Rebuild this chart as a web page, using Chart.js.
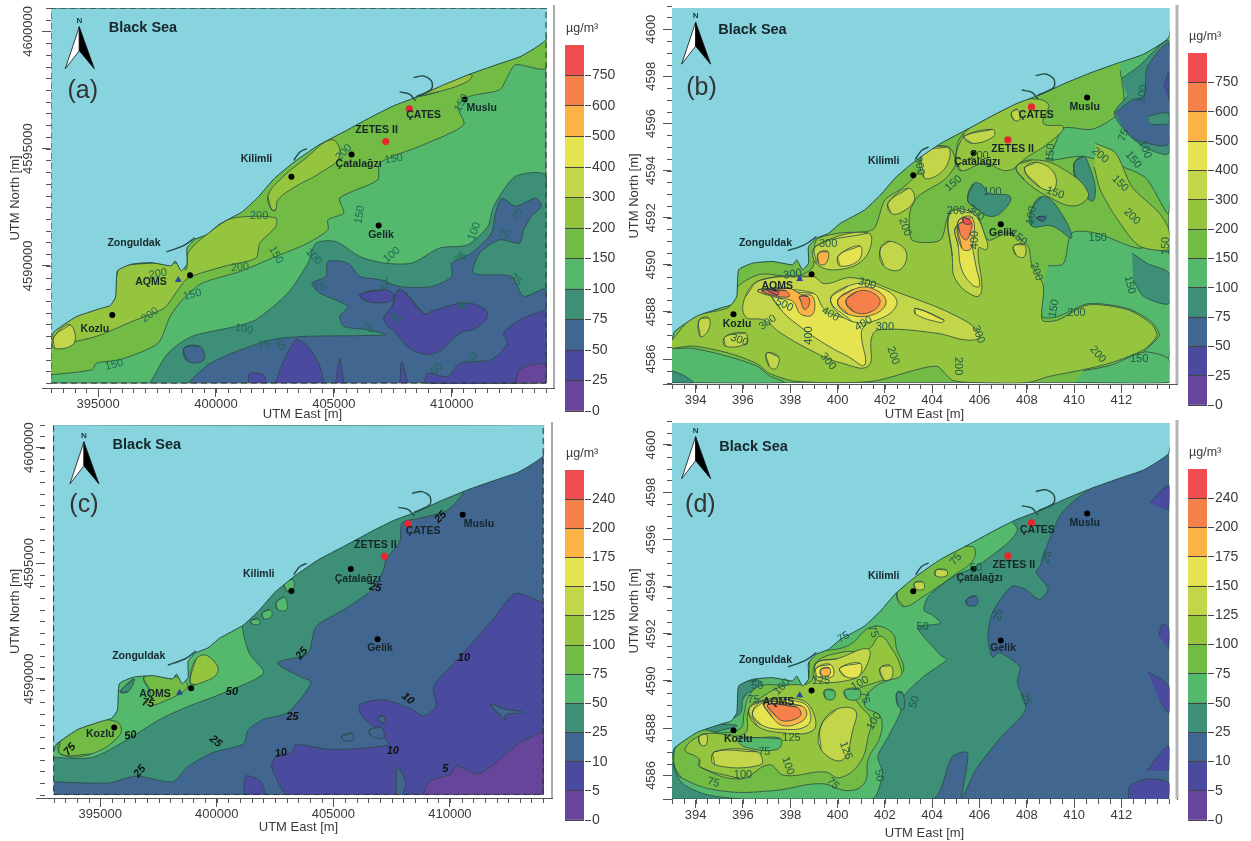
<!DOCTYPE html>
<html>
<head>
<meta charset="utf-8">
<title>UTM contour maps</title>
<script src="https://cdn.jsdelivr.net/npm/chart.js@4"></script>
<style>
html,body{margin:0;padding:0;background:#fff;}
#page{position:relative;width:1251px;height:841px;overflow:hidden;}
canvas{position:absolute;}
</style>
</head>
<body>
<div id="page"></div>
<script>
// colour classes, lowest to highest
const bandColors = ['#66459b','#4a4a9f','#41668f','#3d8f78','#54b96c','#72bb45','#95c43e','#c3d548','#e5e350','#fbb345','#f58049','#ef4d4f'];
const bandHeights = [1,1,1,1,1,1,1,1,1,1,1,1];
const tickLabelsAB = ['0','25','50','75','100','150','200','300','400','500','600','750'];
const tickLabelsCD = ['0','5','10','25','50','75','100','125','150','175','200','240'];

// shared geography, km east / km north
const coast = [[393,4586.85],[393.12,4587.18],[394.05,4587.82],[395.06,4588.17],[395.5,4588.3],[395.74,4588.66],[395.82,4589.79],[396.41,4590.07],[397.25,4590.14],[398.1,4590],[398.27,4590.21],[398.52,4589.79],[398.77,4590.07],[398.77,4590.77],[399.11,4591.13],[399.62,4591.34],[400.12,4591.76],[401.13,4592.32],[401.81,4592.96],[402.48,4593.73],[403.33,4594.44],[404.34,4595.14],[405.52,4595.77],[406.7,4596.41],[407.54,4596.83],[408.64,4597.25],[409.56,4597.68],[410.75,4598.17],[411.93,4598.59],[412.94,4598.94],[414,4599.65]];
const harbours = [
  [[408.47,4597.2],[409.14,4597.54],[409.14,4597.89],[408.8,4598.1],[408.38,4598.03]],
  [[407.79,4597.42],[408.22,4597.32],[408.47,4597.04]],
  [[403.3,4594.5],[403.55,4594.85],[403.85,4595]],
  [[397.9,4590.6],[398.6,4590.85],[399.11,4591.2]]
];
const landRect = [[393,4585],[414,4585],[414,4601],[393,4601]];
const sitesBlack = [[395.6,4587.9],[398.9,4589.6],[403.2,4593.8],[405.75,4594.75],[406.9,4591.72],[410.55,4597.1]];
const sitesRed = [[408.2,4596.7],[407.2,4595.3]];
const siteAqms = [[398.4,4589.4]];

// panel a
const a150 = [[393,4585.35],[394.75,4585.57],[394.92,4585.85],[395.93,4586],[397.54,4586.7],[398.05,4587.84],[398.64,4588.62],[399.41,4589.26],[401.02,4589.76],[402.54,4590.4],[403.9,4590.97],[404.75,4591.54],[404.75,4591.97],[405.42,4592.25],[405.25,4592.89],[406.86,4593.67],[406.95,4594.39],[408.81,4595.17],[410.51,4596.02],[410.25,4596.8],[410.76,4597.23],[412.03,4597.51],[412.37,4598.08],[412.71,4598.58],[414,4598.44],[414,4601],[393,4601]];
const a200w = [[393,4586.56],[394.92,4586.99],[396.44,4587.63],[397.8,4588.2],[398.39,4588.98],[398.81,4589.48],[400.34,4589.98],[401.69,4590.33],[401.86,4590.97],[402.54,4591.68],[402.54,4592.04],[401.44,4592.11],[400.51,4591.97],[399.32,4591.11],[398.81,4590.55],[398.73,4589.83],[398.3,4590.12],[395.93,4589.98],[395.76,4589.55],[393,4587.13]];
const a200m = [[402.37,4592.39],[402.2,4592.96],[402.71,4593.67],[403.73,4594.53],[404.92,4595.38],[405.25,4594.67],[404.41,4593.96],[403.39,4593.39],[402.63,4592.82],[402.54,4592.39]];
const a200e = [[408.47,4597.23],[409.49,4597.44],[410.68,4597.87],[410.85,4598.15],[410,4598.01],[408.81,4597.51]];
const a300 = [[393.14,4586.99],[393.81,4587.49],[393.98,4586.7],[393.14,4586.49]];
const a75 = [[397.2,4585],[397.97,4586.28],[398.98,4586.99],[400.85,4587.42],[401.69,4587.7],[403.05,4588.84],[403.9,4590.12],[404.24,4590.97],[405.08,4591.04],[406.1,4590.4],[407.12,4590.12],[408.31,4590.12],[409.49,4590.76],[410.68,4590.9],[411.53,4591.68],[411.78,4592.54],[412.71,4593.82],[414,4593.82],[414,4585]];
const a50 = [[398.81,4585],[399.66,4585.78],[400.68,4586.28],[402.37,4586.85],[403.73,4586.99],[407.2,4587.06],[406.44,4587.27],[405.42,4587.42],[405.25,4587.84],[405.59,4588.27],[404.41,4588.84],[404.07,4589.26],[404.66,4589.55],[404.75,4590.19],[405.59,4590.12],[406.1,4589.55],[406.95,4589.41],[407.8,4589.12],[409.15,4589.12],[410,4589.55],[410,4590.12],[410.85,4590.55],[411.69,4591.4],[411.86,4592.25],[412.12,4592.89],[412.71,4592.54],[413.56,4592.89],[413.81,4592.54],[413.39,4592.11],[413.05,4591.54],[412.88,4590.97],[412.03,4591.11],[411.19,4590.55],[410.93,4589.69],[412.54,4589.55],[413.05,4588.7],[414,4588.98],[414,4585]];
const a50b = [[398.64,4586.49],[399.32,4586.56],[399.49,4586],[398.81,4585.92]];
const a25s1 = [[401.36,4585],[401.44,4585.42],[402.03,4585.35],[402.12,4585]];
const a25s2 = [[402.54,4585],[402.71,4585.57],[403.39,4586.85],[403.9,4586.56],[404.41,4585.71],[404.58,4585]];
const a25s3 = [[405.08,4585],[405.25,4586.06],[405.42,4585]];
const a25s4 = [[407.8,4585],[407.88,4585.92],[408.14,4585]];
const a25m = [[407.8,4588.98],[408.81,4587.98],[409.32,4588.13],[410.68,4588.41],[411.53,4587.98],[411.02,4587.34],[410.34,4587.13],[409.32,4586.28],[408.31,4586.42],[407.63,4587.13],[407.12,4587.7],[407.46,4588.27]];
const a25e = [[414,4588.13],[412.88,4587.7],[412.2,4587.13],[412.37,4586.7],[411.69,4586],[410.34,4585.85],[409.83,4585.28],[408.98,4585.42],[408.9,4585],[414,4585]];
const a25n = [[406.1,4588.77],[407.12,4588.98],[407.54,4588.77],[407.37,4588.48],[406.44,4588.48]];
const a0 = [[412.71,4585],[412.88,4585.57],[413.39,4585.78],[414,4585.78],[414,4585]];
const layersA = [[4,landRect],[5,a150],[3,a75],[2,a50],[2,a50b],[1,a25s1],[1,a25s2],[1,a25s3],[1,a25s4],[1,a25m],[1,a25e],[1,a25n],[0,a0],[6,a200w],[6,a200m],[6,a200e],[7,a300]];
const contourLabelsA = [['200',397.2,4587.9,-35],['150',399,4588.77,-15],['200',397.54,4589.66,-10],['200',401.02,4589.93,-5],['150',402.54,4590.47,60],['200',401.83,4592.11,0],['200',405.42,4594.84,-45],['150',407.54,4594.56,-10],['150',406.1,4592.18,-80],['150',395.68,4585.78,-15],['100',401.19,4587.3,10],['100',404.15,4590.4,45],['100',407.46,4590.47,-40],['100',410.96,4591.47,-70],['75',402.03,4586.63,-10],['50',402.71,4586.63,60],['75',404.41,4589.08,-10],['75',407.12,4589.26,70],['50',407.6,4587.77,45],['75',406.44,4587.34,20],['50',410.42,4588.3,10],['75',410.37,4590.33,-40],['75',412.71,4589.4,45],['75',412.2,4591.33,15],['75',412.8,4592.18,-60],['50',410.93,4586.06,-80],['50',409.36,4585.6,-50],['150',410.42,4596.95,-60]];
const siteLabelsA = [['Kozlu',394.86,4587.3],['AQMS',397.24,4589.31],['Zonguldak',396.52,4590.99],['Kilimli',401.72,4594.55],['Çatalağzı',406.05,4594.34],['ZETES II',406.81,4595.78],['ÇATES',408.81,4596.42],['Muslu',411.27,4596.73],['Gelik',407,4591.3]];

// panel b
const b100e1 = [[411.95,4598.25],[412.1,4597],[411.75,4596.3],[410.75,4595.75],[409.55,4595.8],[409.15,4595],[408.9,4594.45],[410.4,4594.6],[412.95,4593.75],[414,4592.2],[414,4601],[412,4601]];
const b100e2 = [[408.9,4589.95],[409.55,4590.05],[409.9,4591.35],[410.9,4591.35],[412.75,4590.7],[414,4591.05],[414,4586],[412.95,4586.25],[413.6,4587],[413.25,4587.6],[412.25,4588.15],[410.6,4588.35],[409.3,4587.8],[408.65,4587.8],[408.7,4589.1]];
const b100s1 = [[393,4586.45],[393.9,4586.45],[395.4,4586.1],[396.6,4585.7],[397.1,4585.3],[397.75,4585],[393,4585]];
const b100s2 = [[410.4,4585.5],[411.6,4585.75],[412.95,4586.3],[414,4586],[414,4585],[410.05,4585]];
const b100s3 = [[404.15,4590.2],[404.6,4590.05],[404.5,4589.35],[404.15,4589.5]];
const b75a = [[405.5,4592.75],[405.75,4593.45],[406.1,4593.4],[406.35,4593.05],[407.3,4592.9],[407.05,4592.35],[406.5,4592.05],[405.85,4592.4]];
const b75b = [[408.2,4592.35],[408.65,4592.9],[409.25,4592.5],[409.9,4591.15],[409.05,4591.65],[408.2,4591.65]];
const b75c = [[410,4594.3],[410.4,4594.6],[410.65,4594.15],[410.9,4593.2],[410.75,4592.7],[410.15,4593.45]];
const b75d = [[412.45,4590.5],[413.1,4590.05],[414,4589.65],[414,4588.35],[412.95,4588.65],[412.5,4589.35]];
const b75e = [[412,4597.9],[412.7,4598.4],[414,4599.5],[414,4594.75],[412.95,4595],[412.1,4595.75],[411.7,4596.45],[412.25,4597.15]];
const b75h = [[413.1,4596.3],[413.95,4596.45],[414,4596],[413.25,4595.95]];
const b75s = [[393,4585.5],[393.5,4585.3],[393.9,4585],[393,4585]];
const b50 = [[411.75,4596.45],[412.45,4597],[412.95,4597.15],[413.1,4598.4],[414,4599.4],[414,4595.15],[412.6,4595.3],[412.1,4595.75]];
const b50b = [[408.4,4592],[408.8,4592.05],[408.7,4591.85]];
const b25 = [[413.8,4597.55],[414,4598.2],[414,4596.95]];
const b200m = [[393,4586.8],[393.9,4587.8],[395.4,4588.2],[395.8,4589.1],[396.75,4589.6],[398.25,4589.5],[398.95,4589.9],[399.1,4591.05],[400.1,4591.35],[401.5,4591.5],[402,4592.75],[402.8,4593.3],[403.6,4594.15],[403.65,4594.95],[404.7,4595],[405,4594.3],[404.5,4593.6],[403.4,4592.9],[403.05,4592.2],[403.15,4591.05],[404.35,4591.05],[404.75,4592.2],[405.85,4592.2],[406.35,4591.05],[407.2,4591.35],[408.05,4590.8],[408.2,4590.05],[408.7,4589.1],[408.65,4587.65],[409.3,4587.65],[410.6,4588.3],[412.25,4588.1],[413.25,4587.5],[413.5,4587],[412.95,4586.4],[411.6,4585.85],[410.4,4585.55],[408.9,4585.25],[408.05,4585],[405.85,4585],[404.85,4585.1],[404.15,4585.7],[401.45,4585.05],[398.25,4585.05],[397.1,4585.4],[396.6,4585.8],[395.4,4586.25],[393.9,4586.55],[393,4586.45]];
const b200n = [[405,4594.6],[405.35,4595.6],[407.05,4596.6],[407.7,4597],[408.9,4596.85],[408.7,4596],[409.55,4595.85],[408.9,4595.15],[408.05,4594.6],[407.2,4594],[406.2,4594.3],[405.2,4594]];
const b200l = [[407.55,4594.15],[408.2,4594.45],[409.4,4594.15],[410.6,4593.05],[410.05,4592.5],[408.9,4592.9],[407.9,4593.6]];
const b200e = [[410.9,4595.15],[411.75,4594.75],[412.45,4593.3],[413.6,4592.2],[414,4591.5],[414,4590.65],[412.75,4590.8],[411.75,4592.05],[411.1,4593.2],[410.85,4594.15]];
const b300a = [[396.75,4589.35],[398.95,4589.5],[399.45,4589.2],[400.65,4589.45],[402.5,4588.85],[405.35,4587.65],[406,4586.95],[405.5,4586.8],[404.15,4587.1],[401.8,4587.25],[401.45,4586.95],[401.3,4585.7],[400.1,4585.85],[399.1,4586.25],[397.6,4587.1],[396.9,4587.65],[396.1,4587.8],[396.1,4588.65]];
const b300b = [[404.75,4592.2],[405.7,4592.2],[406.3,4591.05],[406.3,4590.65],[405.95,4590.7],[406.1,4588.95],[405.85,4588.65],[405,4589.35],[404.85,4590.35]];
const b300c = [[399.1,4590.8],[401.3,4591.35],[401.2,4590.35],[400.1,4589.8],[399.1,4590.05]];
const b300p = [
  [[405.35,4595.45],[406.55,4595.75],[406.6,4595.45],[405.7,4595.15]],
  [[403.6,4594.75],[404.6,4595],[404.75,4594.6],[404.35,4593.9],[403.65,4593.7]],
  [[402.15,4592.65],[403,4593.25],[403.25,4592.75],[402.65,4592.2],[402.25,4592.2]],
  [[407.9,4594.05],[408.4,4594.35],[409.15,4593.9],[409.15,4593.2],[408.55,4593.3]],
  [[407.35,4596.45],[407.6,4596.6],[407.7,4596.15],[407.45,4596.15]],
  [[401.8,4590.65],[402.2,4591],[402.9,4590.55],[402.65,4589.8],[401.95,4589.95]],
  [[407.45,4590.8],[407.9,4590.85],[407.9,4590.35],[407.55,4590.4]],
  [[394.15,4587.65],[394.55,4587.75],[394.55,4587.25],[394.2,4586.95]],
  [[395.25,4586.95],[396.1,4587.1],[396.1,4586.65],[395.25,4586.55]],
  [[397,4586.25],[397.5,4586.1],[397.4,4585.6],[397.1,4585.7]]
];
const b400a = [[397.25,4588.8],[398.95,4588.8],[399.45,4588.1],[400.05,4587.8],[401.15,4587.6],[401,4587.1],[401.15,4585.75],[400.45,4586.1],[399.45,4586.65],[398.45,4587.35],[397.6,4588.1]];
const b400b = [[399.7,4588.5],[400.45,4589.1],[401.45,4589.15],[402.5,4588.5],[402,4587.8],[400.6,4587.6]];
const b400c = [[404.99,4591.6],[405.6,4591.75],[405.7,4590.8],[405.85,4589.95],[406,4589.1],[405.7,4589.15],[405.25,4589.8],[405.1,4590.8]];
const b400d = [[400.05,4590.4],[400.95,4590.8],[400.9,4590.2],[400.1,4589.95]];
const b400e = [[403.3,4588.15],[404.5,4587.65],[404.35,4587.55],[403.3,4587.9]];
const b500a = [[396.65,4588.95],[397.95,4589],[398.45,4588.75],[398.95,4588.65],[398.95,4587.9],[398.45,4587.9],[398.1,4588.45],[397.45,4588.6],[396.65,4588.85]];
const b500b = [[400,4588.45],[400.65,4588.95],[401.45,4589],[402.05,4588.45],[401.55,4587.9],[400.45,4587.9]];
const b500c = [[405.1,4591.85],[405.7,4592],[405.65,4590.7],[405.25,4590.7]];
const b500d = [[399.2,4590.5],[399.6,4590.55],[399.5,4590.05],[399.2,4590.05]];
const b600a = [[396.8,4588.9],[397.8,4588.9],[397.95,4588.65],[397.25,4588.7]];
const b600b = [[398.4,4588.65],[398.75,4588.65],[398.8,4588.3],[398.6,4588.1],[398.45,4588.45]];
const b600c = [[400.35,4588.45],[400.8,4588.85],[401.4,4588.85],[401.8,4588.45],[401.4,4588],[400.7,4588]];
const b600d = [[405.15,4591.75],[405.65,4591.8],[405.55,4591.2],[405.4,4591.05],[405.15,4591.4]];
const b750a = [[405.3,4592],[405.6,4591.9],[405.65,4591.75],[405.35,4591.75]];
const b750b = [[397,4588.95],[397.5,4588.85],[397.45,4588.7]];
const layersB = [[5,landRect],[4,b100e1],[4,b100e2],[4,b100s1],[4,b100s2],[4,b100s3],[3,b75a],[3,b75b],[3,b75c],[3,b75d],[3,b75e],[3,b75s],[2,b50],[2,b50b],[3,b75h],[1,b25],[6,b200m],[6,b200n],[6,b200l],[6,b200e],[7,b300a],[7,b300b],[7,b300c]].concat(b300p.map(p=>[7,p])).concat([[8,b400a],[8,b400b],[8,b400c],[8,b400d],[8,b400e],[9,b500a],[9,b500b],[9,b500c],[9,b500d],[10,b600a],[10,b600b],[10,b600c],[10,b600d],[11,b750a],[11,b750b]]);
const contourLabelsB = [['300',398.1,4589.6,-10],['300',399.6,4590.9,0],['300',401.25,4589.2,15],['500',397.75,4588.3,25],['400',399.7,4587.9,30],['400',401.1,4587.5,-30],['300',402,4587.35,0],['400',398.8,4587,-90],['300',397.05,4587.55,-35],['300',395.85,4586.8,20],['300',399.6,4585.9,50],['200',402.35,4586.15,70],['200',405.1,4585.7,90],['300',405.95,4587.05,70],['150',409.15,4588.15,-80],['200',410.1,4587.95,0],['200',411,4586.2,50],['150',412.75,4586,0],['150',412.35,4589.15,75],['200',408.4,4589.7,70],['150',407.65,4591.15,40],['150',411,4591.15,0],['150',413.9,4590.8,-90],['200',412.45,4592.05,45],['150',411.95,4593.45,45],['150',412.5,4594.45,50],['200',411.1,4594.65,40],['100',413,4594.9,70],['75',412.1,4595.5,-70],['100',412.9,4597.25,-80],['150',409,4594.75,-85],['150',409.2,4593.05,20],['100',408.2,4592.1,-80],['100',406.55,4593.1,0],['150',404.9,4593.45,-40],['200',405,4592.3,0],['300',405.85,4592.2,40],['400',405.8,4591.05,-90],['200',402.85,4591.6,70],['300',403.45,4594.2,80],['200',406,4594.6,0]];
const siteLabelsB = [['Kozlu',395.75,4587.5],['AQMS',397.45,4589.1],['Zonguldak',396.95,4590.9],['Kilimli',401.95,4594.4],['Çatalağzı',405.9,4594.35],['ZETES II',407.4,4594.9],['ÇATES',408.4,4596.35],['Muslu',410.45,4596.7],['Gelik',406.95,4591.35]];

// panel c
const c25 = [[393,4585.55],[395.35,4585.5],[396.55,4585.8],[398.1,4585.55],[398.75,4586.2],[399.8,4586.8],[401.15,4587.2],[401.35,4587.8],[402,4588.25],[403.05,4588.55],[404.05,4589.85],[403.55,4590.1],[402.6,4590.7],[403.9,4591.1],[404.25,4592.25],[405.45,4593],[406.65,4593.85],[407.15,4594.7],[407.25,4595.15],[407.85,4595.95],[407.95,4596.75],[408.7,4596.95],[409.9,4597.3],[410.65,4598.25],[410.65,4601],[393,4601]];
const c50 = [[393,4586.6],[394.65,4586.6],[396.2,4587.4],[397.55,4588.25],[398.75,4588.8],[400.3,4589.4],[402,4590.25],[401.4,4591.1],[401.1,4592.25],[401,4601],[393,4601]];
const c50p = [
  [[401.45,4592.5],[401.75,4592.6],[401.85,4592.4],[401.55,4592.35]],
  [[401.95,4592.85],[402.3,4593],[402.35,4592.7],[402,4592.6]],
  [[402.55,4593.3],[402.9,4593.55],[403,4593],[402.6,4593]],
  [[402.9,4594.15],[403.25,4594.3],[403.3,4593.95],[403,4593.8]]
];
const c75a = [[393.3,4586.75],[394.6,4586.75],[395.85,4587.6],[395.7,4588.15],[394.4,4588.1],[393.3,4587.4]];
const c75b = [[396.9,4590.1],[398.25,4590.1],[398.75,4589.65],[397.55,4588.95],[397,4588.9],[397.15,4589.4]];
const c75c = [[398.85,4589.85],[399.1,4590.85],[399.6,4591],[400.05,4590.3],[399.1,4589.75]];
const c25s = [[395.85,4589.45],[396.45,4590],[396.2,4589.45]];
const c5 = [[402.9,4585],[402.35,4586.2],[402.55,4586.65],[403.2,4586.8],[403.4,4587.15],[404.95,4586.95],[407.35,4587.15],[407,4587.65],[406.15,4588.5],[406.15,4588.9],[407.15,4589.1],[408.35,4588.7],[408.85,4588.4],[409.4,4588.8],[409.3,4589.65],[410.05,4590.55],[411.1,4591.7],[411.95,4592.7],[412.8,4593.7],[413.85,4593.35],[414,4593.3],[414,4585]];
const c5b = [[401.15,4585],[401.25,4585.8],[401.85,4585.6],[402.1,4585]];
const c10h = [
  [[405.35,4587.5],[405.8,4587.65],[405.85,4587.35],[405.45,4587.35]],
  [[406.55,4587.8],[407.05,4587.9],[407.15,4587.45],[406.6,4587.55]],
  [[406.9,4588.3],[407.15,4588.4],[407.2,4588.05]],
  [[411.75,4588.9],[412.35,4588.7],[413.15,4588.55],[412.4,4588.45],[412.35,4588.25]],
  [[407.7,4585],[407.75,4586.2],[408.1,4585.55],[408,4585]]
];
const c0 = [[408.85,4585],[409.1,4585.55],[410.05,4585.9],[410.25,4586.25],[411.25,4585.9],[412.45,4586.8],[412.95,4587.2],[413.85,4587.65],[414,4587.7],[414,4585]];
const layersC = [[2,landRect],[3,c25],[4,c50]].concat(c50p.map(p=>[4,p])).concat([[5,c75a],[5,c75b],[6,c75c],[3,c25s],[1,c5],[1,c5b]]).concat(c10h.map(p=>[2,p])).concat([[0,c0]]);
const contourLabelsC = [['25',409.6,4597,-45],['25',406.8,4593.95,10],['25',403.65,4591.1,-50],['25',403.25,4588.35,0],['25',399.95,4587.3,40],['25',396.7,4586,-50],['50',400.65,4589.45,0],['50',396.3,4587.55,-10],['75',397.05,4588.95,10],['75',393.7,4586.95,-50],['10',410.6,4590.9,0],['10',408.2,4589.15,40],['10',407.55,4586.9,0],['10',402.75,4586.8,-10],['5',409.8,4586.1,0]];
const siteLabelsC = [['Kozlu',395,4587.6],['AQMS',397.35,4589.35],['Zonguldak',396.65,4591],['Kilimli',401.8,4594.55],['Çatalağzı',406.05,4594.3],['ZETES II',406.8,4595.8],['ÇATES',408.85,4596.4],['Muslu',411.25,4596.7],['Gelik',407,4591.35]];

// panel d
const d25 = [[410.75,4598.2],[409.9,4597.55],[409.4,4597],[408.9,4595.85],[408.55,4594.85],[408.4,4594.6],[408.9,4593.9],[408.55,4593.45],[407.9,4593.9],[407.35,4594],[406.55,4592.9],[406.35,4591.9],[406.55,4591],[406.85,4591.2],[407.7,4590.6],[407.6,4589.95],[407.95,4588.8],[406.85,4587.55],[405.85,4586.25],[405.25,4585],[405.5,4586.95],[404.85,4586.8],[404,4585],[393,4585],[393,4601],[410.75,4601]];
const d10h = [[405.45,4593.45],[405.85,4593.6],[405.9,4593.25],[405.5,4593.2]];
const d50 = [[393,4586.55],[393.4,4585.7],[394.4,4585.2],[396.05,4585],[401.45,4585],[401.9,4586.1],[401.7,4586.8],[402.15,4587.65],[402.65,4588.65],[402.8,4589.35],[403.65,4590.2],[404.6,4590.9],[404.35,4591.1],[403.5,4592.05],[403.4,4592.3],[404.35,4592.45],[404,4592.8],[403.65,4593],[403.85,4593.6],[404.95,4594.45],[405.85,4594.85],[407.2,4595.85],[407.6,4596.4],[407.35,4596.85],[407.35,4601],[393,4601]];
const d25w = [[395.8,4589.8],[396.6,4590.05],[396.75,4589.8],[396.05,4589.35],[395.9,4588.65],[395.55,4588.5]];
const d25k = [[393.1,4587.2],[394.05,4587.9],[395.05,4588.15],[395.75,4588.1],[395.05,4587.9],[393.9,4587.55],[393.2,4587.25]];
const d25l = [[402.5,4589.5],[402.75,4589.5],[402.8,4588.8],[402.55,4588.95]];
const d75m = [[393.1,4586.4],[393.4,4585.9],[395.05,4585.35],[397.25,4585.35],[399.3,4585.65],[400.45,4585.35],[401.15,4585.7],[401.3,4586.7],[401.8,4587.65],[401.8,4588.5],[401.15,4588.95],[401.45,4589.65],[402.5,4590.2],[402.8,4590.5],[402.5,4591.35],[402.3,4592.05],[401.45,4592.3],[400.45,4591.5],[398.95,4591.05],[398.7,4589.95],[398.1,4589.8],[396.75,4589.8],[396.25,4589.35],[396.05,4588.65],[395.9,4588],[395.05,4587.8],[394.2,4587.9],[393.1,4587.1]];
const d75n = [[402.5,4593.65],[402.8,4593.15],[403.65,4593.6],[404.95,4594.5],[405.75,4595.15],[405.7,4595.7],[404.35,4595.3],[402.8,4594.15]];
const d100m = [[394.2,4586.35],[395.9,4585.85],[397.1,4586.45],[397.75,4586],[399.45,4586.15],[400.1,4585.9],[400.95,4586.55],[401.3,4587.65],[401.4,4588.4],[400.95,4588.95],[400.7,4589.5],[401.65,4589.95],[402.65,4590.2],[402.65,4590.65],[402.3,4591.35],[401.8,4591.9],[401.3,4591.35],[400.1,4591.2],[399.1,4590.8],[398.85,4589.95],[397.75,4589.8],[396.85,4589.35],[396.25,4588.8],[396.05,4587.75],[394.4,4587.75],[393.55,4587.1],[394.15,4586.7]];
const d50p = [
  [[396.6,4587.6],[397.6,4587.55],[397.45,4587.1],[396.1,4587.2],[395.75,4587.55]],
  [[399.45,4589.6],[399.85,4589.6],[399.85,4589.25],[399.5,4589.25]],
  [[400.3,4589.6],[400.9,4589.65],[400.9,4589.25],[400.4,4589.25]]
];
const d125p = [
  [[396.25,4588.8],[396.9,4589.2],[398.45,4589.2],[399,4588.6],[398.95,4587.9],[397.75,4587.8],[396.6,4588.1]],
  [[399.3,4588.1],[399.95,4588.8],[400.75,4588.75],[400.65,4587.95],[400.2,4586.65],[399.3,4587.1]],
  [[399.1,4590.75],[400,4590.95],[401.3,4591.35],[401.15,4590.5],[400.55,4590.05],[399.1,4590.05]],
  [[404.15,4594.7],[404.6,4594.7],[404.6,4594.45],[404.15,4594.45]],
  [[403.25,4594.15],[403.6,4594.2],[403.65,4593.9],[403.3,4593.9]],
  [[394.15,4587.65],[394.45,4587.75],[394.45,4587.3],[394.2,4587.3]],
  [[394.8,4587],[396.6,4587],[396.75,4586.45],[394.8,4586.45]],
  [[401.8,4590.55],[402.25,4590.65],[402.3,4590.15],[401.95,4590.05]]
];
const d150a = [[396.4,4588.65],[396.9,4589.15],[398.45,4589.1],[398.85,4588.65],[398.7,4588.1],[397.75,4587.95],[396.75,4588.15]];
const d150b = [[400.1,4590.55],[400.95,4590.75],[400.9,4590.2],[400.3,4590.2]];
const d150c = [[399.1,4590.55],[399.7,4590.7],[399.8,4590.2],[399.1,4590.2]];
const d175a = [[396.9,4589.1],[398.45,4588.95],[398.7,4588.65],[398.5,4588.3],[397.75,4588.1],[397.25,4588.45]];
const d175b = [[399.3,4590.5],[399.65,4590.55],[399.65,4590.25],[399.3,4590.25]];
const d200 = [[397.05,4589],[398.25,4588.9],[398.45,4588.65],[398.35,4588.45],[397.75,4588.3],[397.4,4588.5]];
const d5p = [
  [[413.2,4597.55],[414,4598.3],[414,4597.2]],
  [[413.6,4591.9],[413.7,4592.4],[414,4592.25],[414,4591.35]],
  [[413.1,4590.4],[414,4589.8],[414,4588.65],[413.6,4589.2]],
  [[413.1,4586.2],[413.45,4586.7],[414,4587.25],[414,4586.2]],
  [[412.3,4585],[412.35,4585.55],[413.1,4585.85],[414,4585.7],[414,4585]]
];
const layersD = [[2,landRect],[3,d25],[2,d10h],[4,d50],[3,d25w],[3,d25k],[3,d25l],[5,d75m],[5,d75n],[6,d100m]].concat(d50p.map(p=>[4,p])).concat(d125p.map(p=>[7,p])).concat([[8,d150a],[8,d150b],[8,d150c],[9,d175a],[9,d175b],[10,d200]]).concat(d5p.map(p=>[1,p]));
const contourLabelsD = [['75',405,4595.15,-50],['50',405.85,4594.8,0],['25',408.85,4595.25,-70],['25',406.8,4592.8,-80],['50',403.6,4592.3,0],['75',401.5,4592.1,70],['75',400.25,4591.85,-30],['125',399.3,4590,0],['100',400.95,4589.9,-30],['75',401.15,4589.3,80],['100',401.55,4588.3,-60],['50',403.25,4589.1,-70],['25',407.95,4589.25,70],['50',396.6,4589.8,0],['100',397.65,4589.75,-45],['75',396.45,4589.2,0],['125',398.05,4587.6,0],['75',396.9,4587,0],['125',400.35,4587.05,70],['100',397.9,4586.4,70],['100',396,4586,0],['75',394.75,4585.7,15],['75',399.8,4585.65,45],['50',401.75,4586,80]];
const siteLabelsD = [['Kozlu',395.8,4587.55],['AQMS',397.5,4589.1],['Zonguldak',396.95,4590.9],['Kilimli',401.95,4594.45],['Çatalağzı',406,4594.35],['ZETES II',407.45,4594.9],['ÇATES',408.45,4596.4],['Muslu',410.45,4596.7],['Gelik',407,4591.4]];

const xTicksKm = [394,396,398,400,402,404,406,408,410,412];
const yTicksKm = [4586,4588,4590,4592,4594,4596,4598,4600];
const xTicksM = [395,400,405,410];
const yTicksM = [4590,4595,4600];

const fontFam = '"Liberation Sans", Arial, sans-serif';
const textCol = '#3a3a3a';

const mapDecor = {
  id: 'mapDecor',
  afterDatasetsDraw(chart, args, o) {
    const ctx = chart.ctx, sx = chart.scales.x, sy = chart.scales.y, a = chart.chartArea;
    ctx.save();
    // curves overshoot the plot a little, wipe that off the margins
    const px0 = sx.getPixelForValue(393), px1 = sx.getPixelForValue(414), py0 = sy.getPixelForValue(4585);
    ctx.fillStyle = '#fff';
    ctx.fillRect(px1 + 1, a.top - 1, a.right - px1, a.bottom - a.top + 1);
    ctx.fillRect(a.left, py0 + 1, a.right - a.left, a.bottom - py0 - 1);
    ctx.fillRect(a.left, a.top - 1, px0 - a.left - 1, a.bottom - a.top + 1);
    // minor ticks
    ctx.strokeStyle = '#555'; ctx.lineWidth = 1;
    ctx.beginPath();
    for (let v = 393; v <= 414; v += 0.5) { const p = Math.round(sx.getPixelForValue(v)) + .5; ctx.moveTo(p, a.bottom); ctx.lineTo(p, a.bottom + 5); }
    for (let v = 4585; v <= 4601; v += 0.5) { const p = Math.round(sy.getPixelForValue(v)) + .5; ctx.moveTo(a.left, p); ctx.lineTo(a.left - 5, p); }
    ctx.moveTo(a.left - 9, a.bottom + .5); ctx.lineTo(a.left, a.bottom + .5);
    ctx.stroke();
    // right frame line
    ctx.strokeStyle = o.frameColor; ctx.lineWidth = o.frameWidth;
    ctx.beginPath(); ctx.moveTo(a.right, a.top - 3); ctx.lineTo(a.right, a.bottom); ctx.stroke();
    // texts
    ctx.textAlign = 'center'; ctx.textBaseline = 'middle';
    ctx.fillStyle = o.contourColor; ctx.font = o.contourFont;
    o.contours.forEach(l => {
      ctx.save();
      ctx.translate(sx.getPixelForValue(l[1]), sy.getPixelForValue(l[2]));
      ctx.rotate(l[3] * Math.PI / 180);
      ctx.fillText(l[0], 0, 0);
      ctx.restore();
    });
    ctx.fillStyle = '#16262a'; ctx.font = 'bold 10.5px ' + fontFam;
    o.sites.forEach(l => ctx.fillText(l[0], sx.getPixelForValue(l[1]), sy.getPixelForValue(l[2])));
    ctx.font = 'bold 14.5px ' + fontFam;
    ctx.fillText('Black Sea', sx.getPixelForValue(o.seaAt[0]), sy.getPixelForValue(o.seaAt[1]));
    ctx.fillStyle = '#333'; ctx.font = '25px ' + fontFam;
    ctx.fillText(o.tag, sx.getPixelForValue(o.tagAt[0]), sy.getPixelForValue(o.tagAt[1]));
    // north arrow
    const nx = sx.getPixelForValue(o.northAt[0]), ny = sy.getPixelForValue(o.northAt[1]);
    ctx.fillStyle = '#1f3a3a'; ctx.font = 'bold 8px ' + fontFam;
    ctx.fillText('N', nx, ny - 6);
    ctx.strokeStyle = '#111'; ctx.lineWidth = .8;
    ctx.fillStyle = '#fff';
    ctx.beginPath(); ctx.moveTo(nx, ny); ctx.lineTo(nx, ny + 24); ctx.lineTo(nx - 14, ny + 42); ctx.closePath(); ctx.fill(); ctx.stroke();
    ctx.fillStyle = '#000';
    ctx.beginPath(); ctx.moveTo(nx, ny); ctx.lineTo(nx, ny + 24); ctx.lineTo(nx + 15, ny + 42); ctx.closePath(); ctx.fill(); ctx.stroke();
    ctx.restore();
  }
};

function polyData(p) { return p.map(q => ({x: q[0], y: q[1]})); }
function onEdge(p) { return p.some(q => q[0] <= 393 || q[0] >= 414 || q[1] <= 4585 || q[1] >= 4601); }
// closed blobs get the ends overlapped so the curve has no corner at the seam
function ring(p) { return onEdge(p) ? p : [p[p.length - 1]].concat(p, [p[0], p[1]]); }

function makeMap(c) {
  const cv = document.createElement('canvas');
  cv.width = c.box[2]; cv.height = c.box[3];
  cv.style.left = c.box[0] + 'px'; cv.style.top = c.box[1] + 'px';
  document.getElementById('page').appendChild(cv);
  const sets = [];
  c.layers.forEach(l => sets.push({data: polyData(ring(l[1])), showLine: true, fill: 'shape', backgroundColor: bandColors[l[0]], borderColor: '#2b4a44', borderWidth: .8, pointRadius: 0, tension: l[1] === landRect ? 0 : (onEdge(l[1]) ? .25 : .42)}));
  sets.push({data: polyData(coast.concat([[414, 4601], [393, 4601]])), showLine: true, fill: 'shape', backgroundColor: '#87d3de', borderColor: '#264a44', borderWidth: 1, pointRadius: 0, tension: .15});
  harbours.forEach(h => sets.push({data: polyData(h), showLine: true, fill: false, borderColor: '#264a44', borderWidth: 1.4, pointRadius: 0, tension: .3}));
  if (c.dashed) sets.push({data: polyData(landRect.concat([landRect[0]])), showLine: true, fill: false, borderColor: '#333', borderWidth: 1, borderDash: [6, 4], pointRadius: 0});
  sets.push({data: polyData(sitesBlack), showLine: false, pointRadius: 3, backgroundColor: '#000', borderWidth: 0});
  sets.push({data: polyData(sitesRed), showLine: false, pointRadius: 3.6, backgroundColor: '#e5282d', borderWidth: 0});
  sets.push({data: polyData(siteAqms), showLine: false, pointStyle: 'triangle', pointRadius: 4, backgroundColor: '#24479c', borderWidth: 0});
  sets.forEach((s, i) => { s.order = sets.length - i; });
  const unit = c.metres ? 1000 : 1;
  new Chart(cv, {
    type: 'scatter',
    data: {datasets: sets},
    plugins: [mapDecor],
    options: {
      responsive: false, animation: false, events: [],
      layout: {padding: {left: 0, right: c.box[0] + c.box[2] - c.area[2], top: c.area[1] - c.box[1], bottom: 0}},
      plugins: {
        legend: {display: false}, tooltip: {enabled: false},
        mapDecor: {contours: c.contours, sites: c.sites, contourColor: c.contourColor, contourFont: c.contourFont, seaAt: c.seaAt, tagAt: c.tagAt, tag: c.tag, northAt: c.northAt, frameColor: c.dashed ? '#555' : '#b5b5b5', frameWidth: c.dashed ? 1 : 3}
      },
      scales: {
        x: {
          type: 'linear', min: c.xr[0], max: c.xr[1],
          afterBuildTicks: s => { s.ticks = c.xt.map(v => ({value: v})); },
          afterFit: s => { s.height = c.box[1] + c.box[3] - c.area[3]; },
          grid: {drawOnChartArea: false, tickLength: 9, color: '#555'},
          border: {display: true, color: '#555'},
          ticks: {font: {family: fontFam, size: 13}, color: textCol, maxRotation: 0, padding: 0, callback: v => String(v * unit)},
          title: {display: true, text: 'UTM East [m]', color: textCol, font: {family: fontFam, size: 13}, padding: {top: 0, bottom: 0}}
        },
        y: {
          type: 'linear', min: c.yr[0], max: c.yr[1],
          afterBuildTicks: s => { s.ticks = c.yt.map(v => ({value: v})); },
          afterFit: s => { s.width = c.area[0] - c.box[0]; },
          grid: {drawOnChartArea: false, tickLength: 9, color: '#555'},
          border: {display: false},
          ticks: {font: {family: fontFam, size: 13}, color: textCol, minRotation: 90, maxRotation: 90, crossAlign: 'center', padding: c.yPad, callback: v => String(v * unit)},
          title: {display: true, text: 'UTM North [m]', color: textCol, font: {family: fontFam, size: 13}, padding: {top: c.titlePad, bottom: 0}}
        }
      }
    }
  });
}

const unitText = {
  id: 'unitText',
  afterDraw(chart) {
    const ctx = chart.ctx, a = chart.chartArea;
    ctx.save();
    ctx.fillStyle = textCol; ctx.font = '12.5px ' + fontFam; ctx.textBaseline = 'middle'; ctx.textAlign = 'left';
    ctx.fillText('µg/m³', a.left + 1, a.top - 16);
    ctx.restore();
  }
};

function makeBar(left, top, bottom, labels) {
  const cv = document.createElement('canvas');
  const w = 60, padT = 30, padB = 10;
  cv.width = w; cv.height = bottom - top + padT + padB;
  cv.style.left = left + 'px'; cv.style.top = (top - padT) + 'px';
  document.getElementById('page').appendChild(cv);
  new Chart(cv, {
    type: 'bar',
    data: {labels: [''], datasets: bandHeights.map((h, i) => ({data: [h], backgroundColor: bandColors[i], barPercentage: 1, categoryPercentage: 1}))},
    plugins: [unitText],
    options: {
      responsive: false, animation: false, events: [],
      layout: {padding: {left: 0, right: 0, top: padT, bottom: padB}},
      plugins: {legend: {display: false}, tooltip: {enabled: false}},
      scales: {
        x: {stacked: true, display: false},
        y: {
          stacked: true, position: 'right', min: 0, max: bandHeights.length,
          afterBuildTicks: s => { s.ticks = labels.map((l, i) => ({value: i})); },
          afterFit: s => { s.width = 41; },
          grid: {z: 1, color: '#444', tickLength: 7, drawTicks: true},
          border: {display: true, color: '#666'},
          ticks: {font: {family: fontFam, size: 14}, color: textCol, padding: 1, callback: v => labels[v]}
        }
      }
    }
  });
}

makeMap({box: [0, 0, 558, 422], area: [51, 8, 554, 388], xr: [393, 414.34], yr: [4584.79, 4601], xt: xTicksM, yt: yTicksM, metres: true, dashed: true, yPad: -12, titlePad: 8,
  layers: layersA, contours: contourLabelsA, sites: siteLabelsA, contourColor: '#1f6a58', contourFont: '11px ' + fontFam, seaAt: [396.9, 4600.14], tagAt: [394.35, 4597.44], tag: '(a)', northAt: [394.2, 4600.2]});
makeMap({box: [625, 0, 556, 422], area: [672, 8, 1178, 384], xr: [393, 414.35], yr: [4584.94, 4600.9], xt: xTicksKm, yt: yTicksKm, metres: false, dashed: false, yPad: -3, titlePad: 2,
  layers: layersB, contours: contourLabelsB, sites: siteLabelsB, contourColor: '#1f5a4a', contourFont: '11px ' + fontFam, seaAt: [396.4, 4599.95], tagAt: [394.25, 4597.5], tag: '(b)', northAt: [394, 4600.3]});
makeMap({box: [0, 418, 558, 417], area: [45, 425, 552, 798], xr: [392.63, 414.38], yr: [4584.85, 4600.98], xt: xTicksM, yt: yTicksM, metres: true, dashed: true, yPad: -19, titlePad: 8,
  layers: layersC, contours: contourLabelsC, sites: siteLabelsC, contourColor: '#111', contourFont: 'italic bold 11px ' + fontFam, seaAt: [397, 4600.1], tagAt: [394.3, 4597.5], tag: '(c)', northAt: [394.3, 4600.25]});
makeMap({box: [625, 418, 556, 423], area: [672, 423, 1178, 799], xr: [393, 414.35], yr: [4585, 4600.93], xt: xTicksKm, yt: yTicksKm, metres: false, dashed: false, yPad: -3, titlePad: 2,
  layers: layersD, contours: contourLabelsD, sites: siteLabelsD, contourColor: '#1f5a4a', contourFont: '11px ' + fontFam, seaAt: [396.45, 4599.9], tagAt: [394.2, 4597.45], tag: '(d)', northAt: [394, 4600.35]});

makeBar(565, 45, 411, tickLabelsAB);
makeBar(1188, 53, 405, tickLabelsAB);
makeBar(565, 470, 820, tickLabelsCD);
makeBar(1188, 469, 820, tickLabelsCD);
</script>
</body>
</html>
